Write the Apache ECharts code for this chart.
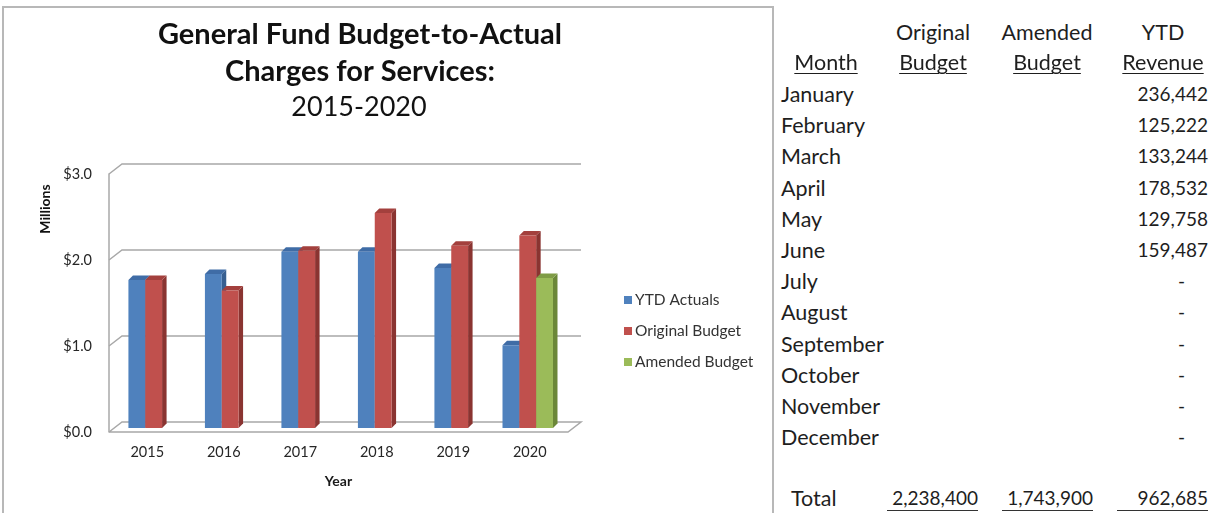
<!DOCTYPE html>
<html>
<head>
<meta charset="utf-8">
<script src="https://cdn.jsdelivr.net/npm/echarts@6/dist/echarts.min.js"></script>
<style>
  html, body { margin: 0; padding: 0; background: #fff; }
  body { width: 1215px; height: 513px; position: relative; overflow: hidden; font-family: Lato, "Open Sans", sans-serif; }
  #frame { position: absolute; left: 2px; top: 6px; width: 772px; height: 520px; border: 2px solid #b8b8b8; box-sizing: border-box; }
  #chart { position: absolute; left: 0; top: 0; width: 780px; height: 513px; }
  .cell { position: absolute; font-size: 21.5px; line-height: 24px; color: #1e1e1e; white-space: nowrap; }
  .num { font-size: 19px; }
  .u { text-decoration: underline; text-decoration-thickness: 1px; text-underline-offset: 3px; }
</style>
</head>
<body>
<div id="frame"></div>
<div id="chart"></div>
<div id="table"></div>
<script>
// chart data (millions)
const years = ['2015', '2016', '2017', '2018', '2019', '2020'];
const ytdActuals = [1.72, 1.79, 2.05, 2.05, 1.86, 0.962685];
const originalBudget = [1.72, 1.60, 2.06, 2.50, 2.12, 2.2384];
const amendedBudget = [null, null, null, null, null, 1.7439];
const yTicks = [0, 1, 2, 3];

// table data
const months = ['January', 'February', 'March', 'April', 'May', 'June',
  'July', 'August', 'September', 'October', 'November', 'December'];
const ytdRevenue = [236442, 125222, 133244, 178532, 129758, 159487, null, null, null, null, null, null];
const totalOriginal = 2238400;
const totalAmended = 1743900;
const totalYtd = 962685;

const seriesDefs = [
  { name: 'YTD Actuals', values: ytdActuals, front: '#4F81BD', side: '#375F90', top: '#3F6CA6' },
  { name: 'Original Budget', values: originalBudget, front: '#C0504D', side: '#8A3431', top: '#A3403D' },
  { name: 'Amended Budget', values: amendedBudget, front: '#9BBB59', side: '#6B8738', top: '#7F9C45' }
];

// slot each bar inside its year group (only non-empty values take a slot)
function buildData(s) {
  const out = [];
  years.forEach((y, i) => {
    const present = seriesDefs.filter(d => d.values[i] != null);
    const slot = present.indexOf(seriesDefs[s]);
    if (slot >= 0) out.push([i, seriesDefs[s].values[i], slot, present.length]);
  });
  return out;
}

const DX = 13, DY = 10;

function renderFrame(params, api) {
  const cs = params.coordSys;
  const v = api.value(1);
  const y = api.coord([0, v])[1];
  const xl = cs.x, xr = cs.x + cs.width;
  const pts = v === 0
    ? [[xl, y], [xr, y], [xr + DX, y - DY], [xl + DX, y - DY], [xl, y]]
    : [[xl, y], [xl + DX, y - DY], [xr + DX, y - DY]];
  return { type: 'polyline', shape: { points: pts }, style: { stroke: '#a8a8a8', lineWidth: 1.5, fill: null } };
}

function makeRenderBar(def) {
  return function (params, api) {
    const cat = api.value(0), v = api.value(1), slot = api.value(2), n = api.value(3);
    const band = api.size([1, 0])[0];
    const w = band * 0.22;
    const base = api.coord([cat, 0]);
    const topPt = api.coord([cat, v]);
    const x0 = base[0] - 2 - n * w / 2 + slot * w;
    const x1 = x0 + w;
    const yb = base[1] - 4, yt = topPt[1] - 4;
    const d = 4.5;
    return {
      type: 'group',
      children: [
        { type: 'polygon', shape: { points: [[x1, yb], [x1 + d, yb - d], [x1 + d, yt - d], [x1, yt]] }, style: { fill: def.side } },
        { type: 'polygon', shape: { points: [[x0, yt], [x0 + d, yt - d], [x1 + d, yt - d], [x1, yt]] }, style: { fill: def.top } },
        { type: 'rect', shape: { x: x0, y: yt, width: w, height: yb - yt }, style: { fill: def.front } }
      ]
    };
  };
}

const chart = echarts.init(document.getElementById('chart'));
chart.setOption({
  animation: false,
  textStyle: { fontFamily: 'Lato' },
  title: [
    { text: 'General Fund Budget-to-Actual', left: 355, textAlign: 'center', top: 15, textStyle: { fontSize: 29, fontWeight: 'bold', color: '#111' } },
    { text: 'Charges for Services:', left: 355, textAlign: 'center', top: 52, textStyle: { fontSize: 29, fontWeight: 'bold', color: '#111' } },
    { text: '2015-2020', left: 354, textAlign: 'center', top: 89, textStyle: { fontSize: 27, fontWeight: 'normal', color: '#111' } }
  ],
  legend: {
    orient: 'vertical',
    left: 619,
    top: 287,
    icon: 'rect',
    itemWidth: 8,
    itemHeight: 8,
    itemGap: 15,
    itemStyle: { borderWidth: 0 },
    data: seriesDefs.map(d => d.name),
    textStyle: { fontSize: 15.5, color: '#333', padding: [0, 0, 0, -2] }
  },
  grid: { left: 109, top: 174, width: 459, height: 258 },
  xAxis: {
    type: 'category',
    data: years,
    name: 'Year',
    nameLocation: 'middle',
    nameGap: 42,
    nameTextStyle: { fontSize: 14, fontWeight: 'bold', color: '#1a1a1a' },
    axisLine: { show: false },
    axisTick: { show: false },
    axisLabel: { margin: 13, fontSize: 14.5, color: '#262626' }
  },
  yAxis: {
    type: 'value',
    min: 0,
    max: 3,
    interval: 1,
    axisLine: { show: true, lineStyle: { color: '#a8a8a8', width: 1.5 } },
    axisTick: { show: false },
    splitLine: { show: false },
    axisLabel: { margin: 17, fontSize: 14.5, color: '#262626', formatter: v => '$' + v.toFixed(1) }
  },
  graphic: [
    { type: 'text', x: 45, y: 209, rotation: Math.PI / 2, style: { text: 'Millions', font: 'bold 14px Lato', fill: '#111', align: 'center', verticalAlign: 'middle' } }
  ],
  series: [
    {
      type: 'custom',
      name: 'frame',
      silent: true,
      clip: false,
      z: 1,
      renderItem: renderFrame,
      data: yTicks.map(v => [0, v])
    }
  ].concat(seriesDefs.map((def, s) => ({
    type: 'custom',
    name: def.name,
    clip: false,
    z: 2,
    itemStyle: { color: def.front },
    encode: { x: 0, y: 1 },
    renderItem: makeRenderBar(def),
    data: buildData(s)
  })))
});

// right-hand table
const fmt = n => n.toLocaleString('en-US');
const table = document.getElementById('table');
function cell(text, css, cls) {
  const el = document.createElement('div');
  el.className = 'cell' + (cls ? ' ' + cls : '');
  el.textContent = text;
  Object.assign(el.style, css);
  table.appendChild(el);
}
function centered(text, cx, cy, cls) {
  cell(text, { left: (cx - 60) + 'px', width: '120px', textAlign: 'center', top: (cy - 12) + 'px' }, cls);
}
centered('Original', 933, 32);
centered('Amended', 1047, 32);
centered('YTD', 1163, 32);
centered('Month', 826, 62, 'u');
centered('Budget', 933, 62, 'u');
centered('Budget', 1047, 62, 'u');
centered('Revenue', 1163, 62, 'u');

months.forEach((m, i) => {
  const cy = 94 + i * 31.2;
  cell(m, { left: '781px', top: (cy - 12) + 'px' });
  if (ytdRevenue[i] != null) {
    cell(fmt(ytdRevenue[i]), { left: '1100px', width: '108px', textAlign: 'right', top: (cy - 12) + 'px' }, 'num');
  } else {
    cell('-', { left: '1100px', width: '85px', textAlign: 'right', top: (cy - 12) + 'px' }, 'num');
  }
});

cell('Total', { left: '791px', top: '486px' });
[[totalOriginal, 887], [totalAmended, 1002], [totalYtd, 1117]].forEach(([v, x]) => {
  cell(fmt(v), { left: x + 'px', width: '91px', textAlign: 'right', top: '486px', height: '24px', borderBottom: '1px solid #333', boxSizing: 'content-box' }, 'num');
});
</script>
</body>
</html>
